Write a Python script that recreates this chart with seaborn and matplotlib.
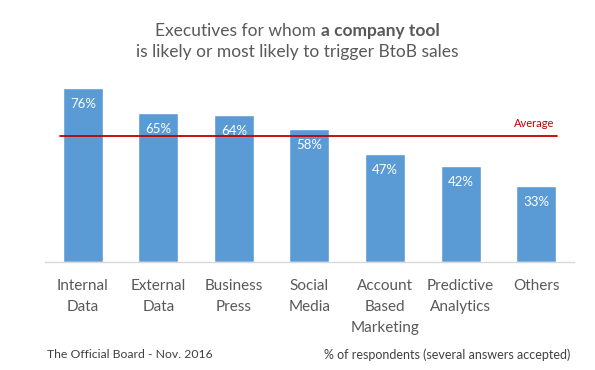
import matplotlib
matplotlib.use("Agg")
import matplotlib.pyplot as plt
import seaborn as sns
import pandas as pd

categories = ["Internal\nData", "External\nData", "Business\nPress", "Social\nMedia",
              "Account\nBased\nMarketing", "Predictive\nAnalytics", "Others"]
values = [76, 65, 64, 58, 47, 42, 33]
average = 55

sns.set_theme(style="white")
plt.rcParams['font.family'] = ['Lato', 'DejaVu Sans']

df = pd.DataFrame({"cat": categories, "val": values})

fig = plt.figure(figsize=(5.95, 3.70), dpi=100)
ax = fig.add_axes([0.0756, 0.292, 0.889, 0.495])
sns.barplot(data=df, x="cat", y="val", color="#5B9BD5", width=0.53, saturation=1, ax=ax)
ax.set_ylim(0, 80)
ax.set_xlim(-0.5, len(categories) - 0.5)
ax.set_xlabel("")
ax.set_ylabel("")
ax.set_yticks([])
for s in ["top", "right", "left"]:
    ax.spines[s].set_visible(False)
ax.spines["bottom"].set_color("#D9D9D9")
ax.spines["bottom"].set_linewidth(1)
ax.tick_params(axis="x", length=0, pad=12.5, labelsize=11, labelcolor="#595959")
for lab in ax.get_xticklabels():
    lab.set_linespacing(1.6)

for i, v in enumerate(values):
    ax.annotate(f"{v}%", (i, v), xytext=(0, -7), textcoords="offset points",
                ha="center", va="top", color="white", fontsize=9.5)

ax.axhline(average, xmin=0.028, xmax=0.968, color="#C00000", lw=1.3)
ax.annotate("Average", (0.968, average), xycoords=("axes fraction", "data"),
            xytext=(-2, 5), textcoords="offset points", ha="right", va="bottom",
            color="#C00000", fontsize=8)

# Title with bold part
fig.canvas.draw()
r = fig.canvas.get_renderer()
t1 = fig.text(0, 0, "Executives for whom ", fontsize=12.5, color="#595959")
t2 = fig.text(0, 0, "a company tool", fontsize=12.5, color="#595959", fontweight="bold")
w1 = t1.get_window_extent(r).width
w2 = t2.get_window_extent(r).width
W = fig.bbox.width
x0 = (W - w1 - w2) / 2
y1 = 1 - 36 / 370
t1.set_position((x0 / W, y1))
t2.set_position(((x0 + w1) / W, y1))
t1.set_va("baseline"); t2.set_va("baseline")
fig.text(0.5, 1 - 57 / 370, "is likely or most likely to trigger BtoB sales",
         ha="center", va="baseline", fontsize=12.5, color="#595959")

fig.text(47 / 595, 1 - 355 / 370, "The Official Board - Nov. 2016", ha="left",
         va="center", fontsize=8.8, color="#404040")
fig.text(570 / 595, 1 - 355 / 370, "% of respondents (several answers accepted)",
         ha="right", va="center", fontsize=9, color="#404040")

fig.savefig("out.png", dpi=100, facecolor="white")
